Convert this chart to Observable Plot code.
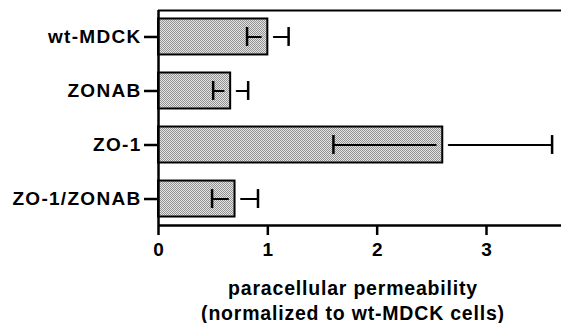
<!DOCTYPE html>
<html>
<head>
<meta charset="utf-8">
<script src="https://cdn.jsdelivr.net/npm/d3@7"></script>
<script src="https://cdn.jsdelivr.net/npm/@observablehq/plot@0.6"></script>
<style>
  html, body { margin: 0; padding: 0; background: #fff; }
  #chart svg { font-family: "Liberation Sans", Arial, Helvetica, sans-serif; font-weight: bold; }
  #chart [aria-label="y-axis tick label"] text { letter-spacing: 1.3px; }
  #chart [aria-label="text"] text { letter-spacing: 0.8px; }
</style>
</head>
<body>
<div id="chart"></div>
<script>
// Data
const categories = ["wt-MDCK", "ZONAB", "ZO-1", "ZO-1/ZONAB"];
const values = [1.0, 0.66, 2.6, 0.70];
const errors = [0.19, 0.16, 1.0, 0.21];
const xTicks = [0, 1, 2, 3];
const xLabel = "paracellular permeability\n(normalized to wt-MDCK cells)";

const data = categories.map((c, i) => ({cat: c, i, v: values[i], e: errors[i]}));
const yIdx = categories.map((c, i) => i);
const yDomain = [-0.49, categories.length - 0.51];

const svg = Plot.plot({
  width: 561,
  height: 323,
  marginLeft: 158,
  marginRight: 0,
  marginTop: 10,
  marginBottom: 98,
  style: {background: "#fff", color: "#000", fontSize: "19px"},
  x: {domain: [0, 3.686]},
  y: {domain: yDomain, reverse: true},
  marks: [
    Plot.rect(data, {
      x1: d => 0, x2: "v",
      y1: d => d.i - 0.333, y2: d => d.i + 0.333,
      fill: "url(#dots)", stroke: "#000", strokeWidth: 2
    }),
    Plot.arrow(data, {
      x1: d => d.v - d.e, x2: "v", y1: "i", y2: "i",
      insetEnd: 7, headLength: 0, stroke: "#000", strokeWidth: 2
    }),
    Plot.arrow(data, {
      x1: "v", x2: d => d.v + d.e, y1: "i", y2: "i",
      insetStart: 6, headLength: 0, stroke: "#000", strokeWidth: 2
    }),
    Plot.ruleX(data, {x: d => d.v - d.e, y1: d => d.i - 0.175, y2: d => d.i + 0.175, stroke: "#000", strokeWidth: 2.5}),
    Plot.ruleX(data, {x: d => d.v + d.e, y1: d => d.i - 0.175, y2: d => d.i + 0.175, stroke: "#000", strokeWidth: 2.5}),
    Plot.ruleY([yDomain[0]], {stroke: "#000", strokeWidth: 2}),
    Plot.ruleY([yDomain[1]], {stroke: "#000", strokeWidth: 2.5}),
    Plot.ruleX([0], {stroke: "#000", strokeWidth: 2.5}),
    Plot.axisX({ticks: xTicks, tickFormat: d => String(d), tickSize: 10, tickPadding: 7, strokeWidth: 2.5, fontSize: 19, fontWeight: "bold", label: null}),
    Plot.axisY({ticks: yIdx, tickFormat: i => categories[i], tickSize: 14, tickPadding: 3, strokeWidth: 2.5, fontSize: 19, fontWeight: "bold", label: null}),
    Plot.text([xLabel], {
      frameAnchor: "bottom", lineAnchor: "top", dy: 51.5, dx: -7,
      fontSize: 19.5, fontWeight: "bold", lineHeight: 1.29, fill: "#000"
    })
  ]
});

// dotted fill pattern for bars
const ns = "http://www.w3.org/2000/svg";
const defs = document.createElementNS(ns, "defs");
const pat = document.createElementNS(ns, "pattern");
pat.setAttribute("id", "dots");
pat.setAttribute("width", "2");
pat.setAttribute("height", "2");
pat.setAttribute("patternUnits", "userSpaceOnUse");
const bg = document.createElementNS(ns, "rect");
bg.setAttribute("width", "2"); bg.setAttribute("height", "2"); bg.setAttribute("fill", "#e4e4e4");
pat.appendChild(bg);
for (const [px, py] of [[0, 0], [1, 1]]) {
  const r = document.createElementNS(ns, "rect");
  r.setAttribute("x", px); r.setAttribute("y", py);
  r.setAttribute("width", "1"); r.setAttribute("height", "1");
  r.setAttribute("fill", "#929292");
  pat.appendChild(r);
}
defs.appendChild(pat);
svg.insertBefore(defs, svg.firstChild);
document.getElementById("chart").appendChild(svg);
</script>
</body>
</html>
